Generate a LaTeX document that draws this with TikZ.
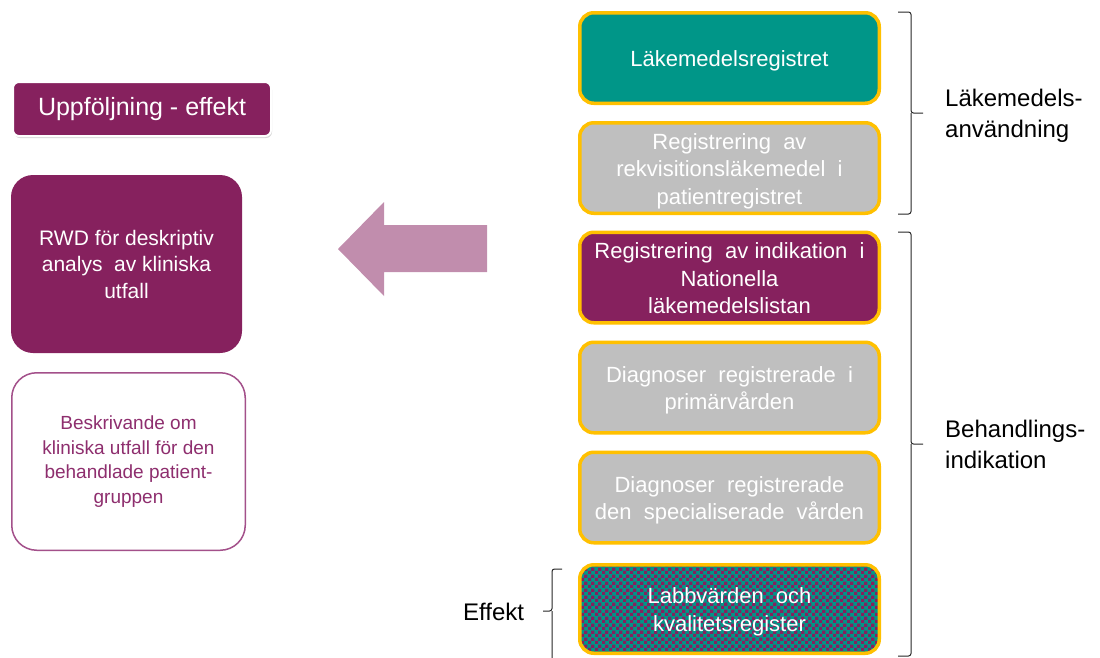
\documentclass[tikz,border=0pt]{standalone}
\usepackage{fontspec}
\setmainfont{Liberation Sans}
\usetikzlibrary{patterns,shadows}

\definecolor{tealbox}{HTML}{009688}
\definecolor{plum}{HTML}{86215E}
\definecolor{greybox}{HTML}{BFBFBF}
\definecolor{amber}{HTML}{FFC000}
\definecolor{mauve}{HTML}{C18DAD}
\definecolor{plumline}{HTML}{A3508A}
\definecolor{plumtext}{HTML}{8E2E6E}

% checkerboard with 3.3pt squares
\pgfdeclarepatternformonly{bigchecks}{\pgfpointorigin}{\pgfqpoint{6.6pt}{6.6pt}}{\pgfqpoint{6.6pt}{6.6pt}}{%
  \pgfpathrectangle{\pgfpointorigin}{\pgfqpoint{3.35pt}{3.35pt}}%
  \pgfpathrectangle{\pgfqpoint{3.3pt}{3.3pt}}{\pgfqpoint{3.35pt}{3.35pt}}%
  \pgfusepath{fill}}

% fixed struts for the first and last line of the register texts
\newcommand\firstline{\rule{0pt}{24pt}}
\newcommand\lastline{\rule[-7pt]{0pt}{0pt}}

\tikzset{
  regbox/.style={draw=amber, line width=3.5pt, rounded corners=14pt,
    minimum width=299.5pt, minimum height=90.5pt, align=center, text=white,
    inner sep=0pt, font=\fontsize{22}{27.5}\selectfont},
  sidelabel/.style={anchor=base west, align=left, inner sep=0pt,
    font=\fontsize{24}{31}\selectfont},
  bracket/.style={draw=black!85, line width=1pt, rounded corners=2.5pt},
}

\begin{document}
\begin{tikzpicture}[x=1pt, y=-1pt]
\useasboundingbox (0,0) rectangle (1100,657);

% register boxes
\node[regbox, fill=tealbox] (lmr) at (729.5,58)
  {\firstline Läkemedelsregistret\lastline};
\node[regbox, fill=greybox] (rekv) at (729.5,168)
  {\firstline Registrering\ \ av\\rekvisitionsläkemedel\ \ i\\patientregistret\lastline};
\node[regbox, fill=plum] (nll) at (729.5,277.5)
  {\firstline Registrering\ \ av indikation\ \ i\\Nationella\\läkemedelslistan\lastline};
\node[regbox, fill=greybox] (prim) at (729.5,387.5)
  {\firstline Diagnoser\ \ registrerade\ \ i\\primärvården\lastline};
\node[regbox, fill=greybox] (spec) at (729.5,497.5)
  {\firstline Diagnoser\ \ registrerade\\den\ \ specialiserade\ \ vården\lastline};
\node[regbox, minimum height=88.5pt, preaction={fill=tealbox},
      pattern=bigchecks, pattern color=plum] (labb) at (729.5,609)
  {\firstline Labbvärden\ \ och\\kvalitetsregister\lastline};

% brackets
\draw[bracket] (898,12) -| (911,113) -- (923,113);
\draw[bracket] (911,113) |- (898,214);
\coordinate (lakTip) at (923,113);
\draw[bracket] (898,232) -| (911,444) -- (923,444);
\draw[bracket] (911,444) |- (898,656);
\coordinate (behTip) at (923,444);
\draw[bracket] (562,569) -| (552,611) -- (543,611);
\draw[bracket] (552,611) |- (562,660);

% bracket labels (base anchor sits on the last line)
\node[sidelabel] (lak) at (945,137) {Läkemedels-\\användning};
\node[sidelabel] (beh) at (945,468) {Behandlings-\\indikation};
\node[sidelabel] (eff) at (463,620) {Effekt};

% big arrow
\fill[mauve] (338,249) -- (384,202) -- (384,225) -- (487,225) -- (487,272)
  -- (384,272) -- (384,296) -- cycle;

% left column
\node[fill=plum, draw=white, line width=2pt, rounded corners=6pt,
      minimum width=258pt, minimum height=54pt, text=white, inner sep=0pt,
      font=\fontsize{25}{30}\selectfont,
      drop shadow={shadow xshift=1pt, shadow yshift=-2pt, opacity=0.3}]
      (upp) at (142,109) {Uppföljning - effekt};
\node[fill=plum, rounded corners=22pt, minimum width=231pt, minimum height=178pt,
      text=white, align=center, inner sep=0pt, font=\fontsize{21}{26.5}\selectfont]
      (rwd) at (126.5,264) {RWD för deskriptiv\\analys\ \ av kliniska\\utfall};
\node[draw=plumline, line width=1.5pt, fill=white, rounded corners=25pt,
      minimum width=233.5pt, minimum height=177.5pt, text=plumtext, align=center,
      inner sep=0pt, font=\fontsize{19}{24.5}\selectfont]
      (besk) at (128.5,461.5) {Beskrivande om\\kliniska utfall för den\\behandlade patient-\\gruppen};
\end{tikzpicture}
\end{document}
